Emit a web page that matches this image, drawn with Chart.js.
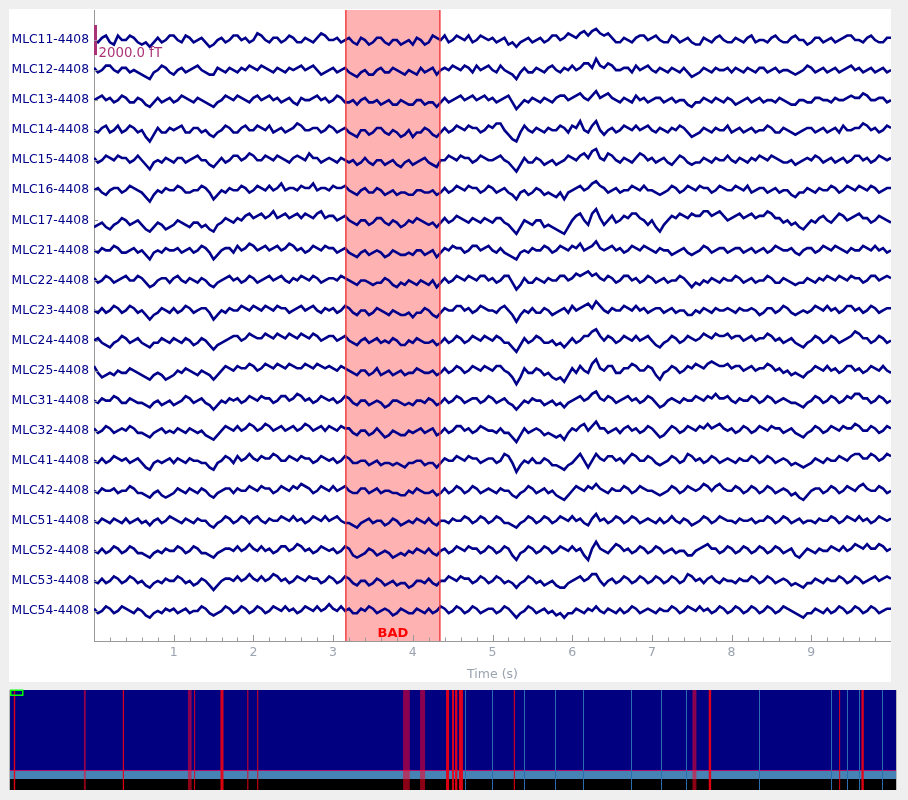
<!DOCTYPE html>
<html><head><meta charset="utf-8">
<script src="https://cdn.jsdelivr.net/npm/chart.js@4.4.0/dist/chart.umd.min.js"></script>
<style>
html,body{margin:0;padding:0;background:#efefef;width:908px;height:800px;overflow:hidden}
#main{position:absolute;left:9px;top:9px;width:882px;height:673px;background:#fff}
#ov{position:absolute;left:9px;top:689px;width:888px;height:101px}
</style></head><body>
<div id="main"><canvas id="c1" width="882" height="673"></canvas></div>
<div id="ov"><canvas id="c2" width="888" height="101"></canvas></div>
<script>
// ---------- data ----------
const STEP_S = 0.05;       // sample spacing of the read-off values (s)
const UNIT_FT = 150;       // one data unit = 150 fT
const SCALE_FT = 2000;     // scale bar = one channel spacing
const VIEW_START = 0, VIEW_END = 10;
const xTickLabels = [1,2,3,4,5,6,7,8,9];
const channelNames = ['MLC11-4408','MLC12-4408','MLC13-4408','MLC14-4408','MLC15-4408','MLC16-4408','MLC17-4408','MLC21-4408','MLC22-4408','MLC23-4408','MLC24-4408','MLC25-4408','MLC31-4408','MLC32-4408','MLC41-4408','MLC42-4408','MLC51-4408','MLC52-4408','MLC53-4408','MLC54-4408'];

const MLC11 = [0,-1,1,2,-1,-2,2,0,0,2,1,-1,-2,-1,-3,-1,1,-1,0,2,
2,0,-1,2,1,-1,0,1,-1,-3,-2,0,1,-1,0,2,2,0,1,-1,
0,3,2,0,-1,1,1,-1,0,2,1,-1,-1,1,0,-1,1,3,2,0,
0,1,-1,0,1,-1,-2,1,0,-2,-1,1,1,-1,-2,0,0,-2,-1,0,
-2,1,0,-2,-1,2,1,0,2,-1,0,2,1,0,2,-1,0,2,1,0,
1,-1,0,1,-2,-1,-3,-1,0,1,-1,0,1,-1,0,2,2,0,1,3,
2,1,3,4,2,4,5,3,2,3,1,-1,-1,1,0,-1,1,2,2,0,
1,2,0,-1,-1,2,1,-1,0,1,-1,-2,-2,1,0,-1,1,2,0,-1,
-1,1,0,-1,1,2,-1,0,0,-1,1,2,0,-1,-1,1,2,0,0,-2,
-1,1,1,-1,0,1,-1,0,1,2,2,0,0,-1,1,2,0,-1,-1,1,
1];
const MLC12 = [1,-1,0,2,2,0,-1,1,1,-1,0,-1,-2,-3,-4,-1,0,2,1,-1,
-2,0,1,-1,0,1,2,0,-1,-2,-2,1,0,-1,1,0,-1,1,0,2,
1,0,2,1,0,-1,1,0,-1,1,0,1,2,0,1,2,0,-2,-1,0,
1,-1,0,1,-1,-2,-3,-1,0,-2,-2,0,1,-1,-1,1,0,-1,-2,0,
-1,-2,1,-1,0,1,-2,0,1,0,2,1,0,2,1,-1,2,0,1,2,
0,-1,2,0,-1,-2,-4,-1,1,-1,-1,1,0,-1,1,2,0,-1,1,0,
2,0,1,3,3,1,5,2,1,3,2,0,0,1,1,-1,2,0,1,2,
0,-1,1,0,-1,1,0,-1,1,-1,-3,-2,-1,1,0,-1,1,0,0,1,
-1,1,0,-1,1,0,-1,1,1,-1,0,1,-1,0,0,-1,-2,-1,0,2,
1,-1,0,1,-1,0,1,-1,0,1,2,0,1,-1,0,1,-1,0,1,-1,
0];
const MLC13 = [0,1,2,0,1,-1,0,2,1,-1,-1,1,0,-2,-3,-1,1,-1,0,1,
-1,0,2,1,0,-1,1,0,-1,-2,-3,-1,0,2,1,0,2,1,0,-1,
1,2,0,1,2,0,1,-1,0,1,-1,-2,1,0,0,1,2,0,1,-1,
0,2,1,-1,-1,0,-2,0,1,-1,-1,0,-2,-1,0,-2,-2,0,-1,-2,
-2,0,0,-2,-1,-1,-3,-1,1,-1,0,1,2,0,1,2,0,1,2,0,
1,-1,0,1,2,-1,-4,-2,0,-1,1,0,-1,1,0,-1,1,2,2,0,
1,2,3,1,0,2,4,1,2,3,1,0,-1,1,0,-1,2,0,1,-1,
0,1,1,-1,0,1,-1,0,0,-2,-3,-1,-1,1,0,-1,1,0,-1,1,
0,-2,-1,0,1,-1,0,1,-1,0,0,-1,1,0,-1,-2,-2,0,0,-1,
-1,1,1,0,0,-1,1,0,0,1,2,1,1,3,2,0,0,1,1,-1,
0];
const MLC14 = [0,-1,1,2,-1,0,2,-1,0,2,1,-1,0,-3,-5,-2,1,-1,-1,1,
0,1,2,-1,-1,1,1,-1,0,-2,-3,-1,0,2,1,-1,-1,1,2,0,
0,2,1,0,2,-1,0,1,-1,0,1,3,2,0,0,1,1,-1,0,2,
1,-1,0,1,-1,-2,-3,0,0,-2,-1,1,1,-1,-2,0,-1,-3,-2,0,
-3,-1,-1,1,0,-2,-3,-1,1,-1,0,2,1,0,2,1,1,-1,0,2,
1,3,3,0,-2,-4,-5,-1,2,0,-1,1,0,-1,1,0,0,2,1,-1,
2,1,4,0,-1,2,4,0,-2,0,1,-1,0,2,1,0,2,0,1,2,
0,-1,1,0,-1,1,0,2,1,-1,-3,-2,-1,1,0,-1,1,0,0,2,
-1,0,1,-1,0,1,-1,0,0,2,1,-1,-1,1,0,-1,-2,-1,0,1,
1,-1,0,1,-1,0,1,-1,2,0,0,1,1,3,2,0,1,-1,0,2,
1];
const MLC15 = [1,-1,0,2,1,0,2,1,1,-1,0,2,0,-2,-4,-1,0,-1,1,0,
-1,1,1,-1,0,1,2,0,0,-2,-3,-1,1,-1,0,2,2,0,1,3,
2,0,0,2,1,0,2,1,0,-1,1,2,1,0,3,1,1,-1,0,1,
0,-1,1,0,-1,0,-2,-1,1,-1,-2,0,0,-2,-1,0,-2,-3,-1,0,
-2,-1,0,1,-1,-2,-3,0,0,2,1,0,2,1,1,-1,0,2,1,0,
0,1,2,0,-1,-3,-5,-2,1,-1,-1,1,0,-2,-1,0,-2,-1,0,2,
1,0,2,3,1,4,5,1,0,3,2,0,-1,1,0,-1,1,3,2,0,
1,-1,0,1,-1,-2,0,2,1,-1,-2,-1,-1,1,0,-1,1,0,0,2,
0,-1,1,0,-1,1,0,2,1,0,2,1,0,-1,-1,0,-2,-1,0,1,
0,2,1,-1,0,1,-1,0,1,-1,0,2,2,0,1,-1,0,2,1,0,
1];
const MLC16 = [0,1,-1,-2,0,1,1,-1,0,2,1,0,-1,-3,-5,-2,0,-1,1,0,
0,2,1,-1,-1,0,0,2,1,-1,-4,-2,0,-1,1,0,0,2,1,-1,
0,2,1,0,2,0,1,3,0,1,1,0,2,1,1,3,0,1,1,0,
2,1,1,2,0,-1,-2,0,1,-1,-1,1,0,-2,-1,0,-2,-1,-1,-2,
-2,0,0,-1,-1,0,-2,-1,1,-1,0,2,1,0,2,1,1,-1,0,2,
1,-1,0,1,-1,-2,-4,-1,0,-2,-1,1,0,-2,-1,-2,-3,-1,-4,-1,
0,1,2,0,1,3,4,2,1,-1,0,1,-1,0,0,2,1,0,2,0,
0,-1,-2,-1,0,2,1,-1,0,2,1,0,2,1,1,-1,0,2,1,0,
0,2,1,0,2,-1,0,1,1,-1,0,1,-1,0,0,-2,-3,-1,-1,1,
0,-1,1,0,0,2,1,-1,0,2,1,0,2,1,0,2,1,-1,0,1,
1];
const MLC17 = [-3,-2,-1,-3,-4,-2,-1,1,0,-2,-1,0,-2,-4,-5,-3,-1,-2,-4,-3,
-2,0,-1,-2,-3,-1,-1,-3,-2,-4,-5,-2,-1,1,0,-1,1,0,2,3,
1,2,3,1,2,4,1,2,3,1,2,3,1,3,2,1,3,4,1,2,
2,0,1,2,0,-1,-2,0,0,-2,-1,1,1,-1,-2,0,-1,-3,-2,0,
-1,1,0,-1,-2,-1,-3,-1,1,-1,0,2,1,0,-1,1,0,-1,1,0,
-1,1,1,-1,-2,-4,-6,-3,0,-1,-2,0,0,-3,-2,-3,-4,-5,-6,-3,
0,2,3,0,-2,3,5,1,-2,0,2,-1,0,2,1,3,3,1,0,-2,
0,-3,-5,-2,0,2,1,3,2,1,3,2,2,4,4,2,3,4,2,0,
1,2,3,1,2,3,1,2,2,4,3,1,1,-1,0,-2,-1,-3,-4,-2,
0,-1,1,2,0,-1,1,3,2,0,1,2,3,1,1,-1,0,2,1,0,
-1];
const MLC21 = [0,-1,1,0,0,2,1,-1,-1,0,1,-1,0,-2,-4,-1,0,-1,1,0,
0,1,-1,0,1,-1,0,2,1,-1,-4,-2,0,1,1,-1,2,0,1,3,
2,0,1,2,0,1,2,0,1,3,2,0,1,-1,0,2,1,0,2,1,
1,-1,0,1,-1,-2,-3,-1,0,-2,-1,0,-1,-3,-2,0,-1,-2,-2,-1,
-2,0,0,-2,-1,0,-3,-1,1,0,2,1,1,-1,0,2,2,0,1,2,
0,-1,1,-1,-2,-3,-4,-1,0,-1,1,0,0,2,1,-1,0,2,1,0,
2,1,3,0,1,2,4,1,0,1,2,0,1,-1,0,2,1,0,2,1,
0,-1,1,0,0,-2,-1,0,1,-1,-2,-1,0,2,1,-1,0,1,1,-1,
0,1,1,-1,0,1,-1,0,1,-1,0,2,1,0,0,1,-1,-2,0,1,
1,-1,0,2,1,0,2,1,0,-1,1,0,0,2,1,0,2,0,1,-1,
0];
const MLC22 = [1,-1,0,2,1,-1,0,1,2,0,0,2,1,-1,-3,-2,0,1,1,-1,
1,2,0,-1,1,0,-1,1,0,-2,-3,-1,0,1,2,0,1,-1,0,2,
1,-1,0,1,2,0,1,2,0,-1,1,0,2,1,0,2,1,-1,0,1,
1,0,2,1,0,-1,-2,0,0,-1,-2,-1,-1,1,0,-2,-3,-1,-2,0,
-1,-2,0,-1,-2,0,-3,-1,1,-1,0,2,1,0,2,1,0,2,2,0,
1,-1,0,2,2,-1,-4,-2,1,-1,-1,1,0,-1,1,0,0,2,2,0,
1,3,2,3,4,2,3,1,0,2,1,-1,0,2,2,0,1,-1,0,2,
1,-1,0,1,-1,0,0,2,1,-1,-3,-1,-2,0,-1,1,0,-1,1,0,
0,2,1,-1,0,1,-1,0,0,2,1,-1,-1,1,0,-1,-2,-1,-1,1,
0,-1,1,0,2,1,0,2,1,0,2,1,1,-1,0,2,2,0,1,2,
1];
const MLC23 = [0,-1,1,-1,0,2,1,-1,0,2,1,-1,0,-2,-4,-2,-1,1,0,-1,
1,-1,0,2,1,-1,0,1,1,-1,-4,-2,0,-1,1,0,0,2,1,0,
2,1,0,2,1,0,2,1,1,-1,0,1,2,0,1,2,0,-1,1,0,
1,-1,0,2,1,-1,-2,0,0,-2,-1,1,0,-1,-2,0,-1,-2,-2,-1,
-3,-1,-1,1,0,-2,-3,-1,1,0,0,2,2,0,1,-1,0,2,1,0,
0,-1,1,2,0,-2,-5,-2,0,-1,1,-1,-1,1,0,-2,-1,0,1,-1,
2,0,1,2,3,1,4,2,0,-1,1,0,0,2,1,0,2,0,1,-1,
0,1,1,-1,0,1,-1,0,0,-2,-2,0,-1,1,0,-1,1,0,0,1,
0,-1,1,0,0,1,0,-2,-1,1,1,-1,0,2,1,-1,-2,-1,0,-1,
0,2,1,0,2,0,1,-1,0,2,2,0,1,-1,0,2,1,-1,0,1,
1];
const MLC24 = [0,1,-1,-2,-3,-1,0,2,1,-1,0,1,-1,-2,-3,-1,-1,1,0,-1,
1,0,-1,1,0,-2,-1,1,0,-2,-4,-2,-1,0,1,2,2,0,1,3,
2,1,1,3,2,1,3,2,1,3,2,1,3,2,1,3,2,0,1,2,
2,0,1,2,0,-1,-2,0,1,-1,0,1,-1,0,-1,1,0,-2,-2,0,
-1,1,0,-1,-1,0,-2,-1,1,-1,0,2,1,-1,0,2,1,0,2,1,
0,2,1,-1,-1,-3,-5,-2,1,-1,0,2,1,-1,-1,0,-2,-1,-3,-1,
1,-1,0,2,2,4,5,2,0,2,1,-1,0,2,1,0,2,0,1,2,
0,-2,-3,-1,0,2,1,-1,0,2,1,0,1,3,2,1,3,2,2,3,
1,2,2,0,1,2,0,1,1,3,2,0,1,-1,0,1,-1,-2,-3,-1,
0,2,1,-1,0,2,1,-1,0,1,2,4,3,1,1,-1,0,2,1,-1,
0];
const MLC25 = [2,-1,-3,-2,-1,-2,0,-1,-1,1,0,-1,-2,-3,-4,-2,-1,-2,-4,-3,
-2,0,-1,1,0,-1,-2,0,-1,-2,-4,-2,0,2,1,0,2,1,1,3,
2,0,1,3,2,1,3,2,1,3,2,1,1,3,2,1,3,2,1,2,
1,0,2,1,0,-1,-2,0,0,-2,-1,1,-2,-1,0,-2,-1,0,-2,-1,
-1,1,0,-1,-1,0,-2,-1,1,-1,0,2,1,-1,0,2,1,0,2,1,
0,2,2,0,-1,-3,-6,-3,1,-1,-1,1,0,-2,-1,-3,-4,-3,-5,-2,
1,-1,2,0,-1,3,5,1,0,2,2,-1,-1,1,1,3,2,0,0,2,
1,-2,-4,-1,0,2,1,-1,0,2,1,3,2,1,3,4,3,2,2,3,
1,2,2,0,1,2,0,1,1,3,2,0,1,-1,0,-2,-1,-2,-3,-1,
0,2,1,0,2,0,1,-1,0,2,2,0,1,-1,0,2,1,0,2,0,
-1];
const MLC31 = [0,-1,1,0,0,2,1,-1,-1,1,0,-1,-1,-2,-3,-1,0,-2,-1,0,
-2,-1,0,2,1,-1,0,1,-1,-2,-4,-2,0,-1,1,0,1,-1,0,2,
1,0,2,1,1,-1,0,2,2,0,1,3,2,0,1,-1,0,2,1,0,
1,-1,0,2,1,-1,-2,0,0,-2,-1,0,-1,-3,-2,0,0,-1,-2,-1,
-2,0,0,-1,1,0,-2,-1,1,-1,0,2,1,-1,0,1,1,-1,0,2,
1,-1,0,1,-1,-2,-4,-2,0,-1,1,0,0,-2,-1,0,-2,-1,-3,-1,
0,1,2,0,1,3,4,1,0,2,1,-1,0,1,2,0,1,-1,0,2,
1,-1,-3,-2,0,1,0,-1,1,0,0,2,1,0,2,1,3,1,1,2,
0,-1,1,0,0,2,1,-1,0,2,1,-1,0,1,0,-1,-1,-2,-3,-1,
0,2,1,-1,0,2,1,-1,0,2,1,3,3,1,1,-1,0,2,1,-1,
0];
const MLC32 = [1,-1,0,2,1,-1,0,1,0,2,1,-1,-1,-2,-3,-1,0,1,-1,0,
-1,1,0,-1,1,0,-1,0,-2,-3,-4,-2,0,2,1,0,2,0,1,3,
2,0,1,3,2,0,1,2,0,1,2,0,1,3,2,0,1,2,0,2,
1,0,2,1,1,-1,-2,0,0,-2,-1,1,-1,-3,-2,0,-1,-2,-2,0,
-1,0,1,-1,0,1,-2,-1,1,-1,0,2,2,0,1,-1,0,2,1,0,
0,-1,1,-1,-1,-3,-5,-2,1,-1,0,1,0,-2,-1,-2,-3,-2,-4,-1,
1,0,2,3,0,2,4,1,1,-1,0,1,-1,1,2,0,1,-1,0,2,
1,-1,-3,-2,0,2,1,-1,0,2,1,0,2,1,3,1,2,3,1,0,
1,-1,0,2,1,-1,0,2,1,0,2,1,1,-1,0,1,-1,-2,-3,-1,
0,2,1,-1,0,2,1,0,2,1,1,3,2,0,0,2,1,-1,0,2,
1];
const MLC41 = [0,-1,1,-1,0,2,1,0,1,-1,0,1,-1,-3,-4,-1,0,-1,0,1,
-1,1,0,-1,1,0,0,-1,-1,-3,-4,-1,0,2,1,-1,2,0,1,3,
1,0,2,1,1,3,2,0,0,2,1,0,2,1,1,-1,0,2,1,0,
1,-1,0,2,1,-1,-1,0,0,-2,-1,0,-2,-1,-1,-2,-1,-2,-3,-1,
-1,0,0,-2,-1,-1,-3,-1,1,0,0,2,1,0,2,1,1,-1,0,1,
1,-1,0,3,2,-1,-5,-2,0,-1,1,-1,-1,1,0,-2,-2,-3,-4,-2,
-1,1,3,0,-3,0,3,1,0,2,2,0,1,-1,1,3,2,0,0,2,
1,-1,-2,-1,0,2,1,-1,0,3,2,0,1,-1,0,2,1,-1,0,1,
0,-1,1,0,0,2,1,-1,0,2,1,-1,0,1,0,-2,-1,-2,-3,-2,
-1,1,0,-1,1,0,0,2,1,0,2,3,3,1,1,3,2,0,1,3,
2];
const MLC42 = [0,-1,1,0,0,1,-1,0,0,2,1,-1,-1,-2,-3,-1,0,-2,-3,-2,
-1,1,0,-1,1,0,-1,1,0,-2,-3,-1,0,1,1,-1,1,0,0,2,
1,0,2,1,1,-1,0,2,1,0,2,1,3,2,1,-1,0,2,1,0,
2,0,1,2,0,-1,-1,1,1,-1,0,1,-1,0,0,-1,-1,-2,-2,0,
-1,1,0,-1,-1,0,-2,-1,1,-1,0,2,1,-1,0,2,1,-1,0,1,
0,-1,1,0,0,-2,-3,-1,0,2,1,-1,0,1,-1,0,-2,-3,-4,-2,
0,2,1,0,2,1,3,1,0,-1,1,0,0,2,1,-1,0,2,1,0,
0,-1,-2,-1,0,2,1,-1,0,2,1,0,1,3,2,0,2,3,1,0,
0,2,1,-1,0,2,1,-1,0,2,1,-1,0,1,0,-2,-1,-3,-4,-2,
0,1,1,-1,0,2,1,-1,0,2,1,0,2,3,1,0,0,2,1,-1,
0];
const MLC51 = [0,-1,1,0,-1,1,0,-1,1,-1,0,1,-1,0,-2,0,1,-1,0,2,
1,0,-1,1,0,-1,1,0,0,-2,-3,-1,0,2,1,-1,0,2,1,-1,
1,2,0,-1,1,0,0,2,1,0,2,0,1,-1,0,2,1,0,2,0,
1,2,0,-1,-1,-2,-3,-1,0,1,-1,0,0,-2,-1,1,0,-2,-1,0,
-1,1,0,-1,1,-1,-2,0,0,-1,1,0,0,2,1,-1,0,2,1,-1,
0,2,1,-1,-1,-2,-3,-1,0,2,1,-1,0,2,1,-1,0,2,1,0,
2,0,1,-1,-2,1,3,0,1,-1,0,2,1,-1,0,2,1,-1,0,1,
0,-1,1,-1,0,2,0,-1,1,0,-2,-1,0,2,1,-1,0,2,1,0,
0,-1,1,0,0,1,-1,0,0,2,1,-1,0,2,1,-1,0,1,-1,0,
0,-1,1,0,0,2,1,-1,0,2,1,0,2,0,1,-1,0,2,1,0,
1];
const MLC52 = [0,-1,1,-1,0,2,1,-1,0,2,1,-1,-1,-2,-3,-1,0,-1,1,0,
0,2,1,-1,0,2,1,-1,-1,-2,-3,-1,0,1,1,0,2,0,1,3,
1,0,2,0,1,-1,0,2,2,0,1,3,2,0,1,-1,0,2,1,0,
1,-1,0,2,1,-2,-3,-2,-1,1,0,-2,-1,0,-1,-3,-2,-1,-2,0,
-1,1,0,-1,1,-1,-2,0,1,-1,0,2,1,0,2,1,1,-1,0,2,
1,-1,0,2,1,-2,-4,-1,0,2,1,-1,0,2,1,-1,0,2,1,0,
2,0,1,-2,-4,1,4,1,0,-1,1,3,2,0,1,-1,0,2,1,-1,
0,2,1,-1,0,1,-1,0,0,-2,-2,0,1,2,3,1,1,-1,0,2,
1,-1,0,2,1,-1,0,2,1,-1,0,2,1,-1,0,1,-2,-3,-1,1,
0,-1,1,0,0,2,1,0,2,0,1,3,2,1,3,1,1,3,2,0,
1];
const MLC53 = [0,-1,1,-1,0,2,1,-1,0,2,1,-1,0,-2,-3,-1,0,-1,1,0,
0,2,1,-1,0,-2,-1,1,0,-2,-4,-2,0,1,1,0,2,0,1,3,
1,0,2,0,1,3,2,0,1,-1,0,2,1,0,2,1,1,-1,0,2,
1,-1,0,2,1,-1,-2,0,0,-2,-1,1,0,-2,-1,0,-2,-1,-1,-3,
-2,0,0,-1,1,-1,-2,0,0,2,1,0,2,1,1,-1,0,2,1,-1,
0,2,1,-1,0,-1,-3,-1,0,2,1,-1,0,-2,-1,0,-2,-3,-3,-1,
0,1,2,0,1,3,3,0,-2,0,1,-1,0,2,1,-1,0,2,1,-1,
0,2,1,-1,0,2,1,-1,0,3,2,0,1,-1,1,2,0,-1,1,0,
0,-1,1,0,0,2,1,-1,0,2,1,-1,0,1,0,-2,-1,-2,-3,-1,
-1,1,0,-1,1,0,0,2,1,-1,0,2,1,-1,0,1,2,0,1,2,
1];
const MLC54 = [1,-1,0,2,1,-1,0,2,1,0,-1,1,0,-2,-3,-1,0,-1,1,0,
1,-1,0,1,-1,0,0,2,1,-1,-2,-1,0,2,1,-1,0,2,1,-1,
0,2,1,-1,0,2,1,0,2,0,1,-1,0,2,1,0,2,0,1,3,
1,0,2,0,1,-1,-1,1,0,2,1,-1,0,1,0,-2,-1,1,0,-1,
-1,1,0,-1,1,-1,0,2,1,-1,0,2,1,-1,0,2,1,-1,0,1,
1,-1,0,2,1,-1,-3,-1,0,2,1,-1,0,1,-1,0,-2,-1,-3,-1,
-1,1,0,-1,1,0,2,0,-1,1,0,-1,1,-1,0,2,1,-1,0,1,
0,-1,1,0,0,2,1,-1,0,2,1,0,2,0,1,-1,0,2,1,-1,
0,2,1,-1,0,2,1,-1,0,2,1,-1,0,2,1,0,-1,-2,-3,-1,
-1,1,0,-1,1,-1,0,2,1,-1,0,2,1,-1,0,2,1,-1,0,1,
1];
const traces = [MLC11,MLC12,MLC13,MLC14,MLC15,MLC16,MLC17,MLC21,MLC22,MLC23,MLC24,MLC25,MLC31,MLC32,MLC41,MLC42,MLC51,MLC52,MLC53,MLC54];

const BAD_START = 3.16, BAD_END = 4.34, BAD_LABEL = 'BAD';

// overview (whole recording, seconds)
const OV_DURATION = 740;
const ovGroupCounts = [320, 4, 32, 44];
const ovGroupColors = ['#000080', '#b0106a', '#4682b4', '#000000'];
const ovSpanStarts  = [61.7, 148.6, 328.3, 342.5, 570.0];
const ovSpanEnds    = [63.3, 151.7, 333.9, 346.7, 573.3];
const ovBadStarts   = [3.16, 94.2, 153.8, 175.8, 198.2, 206.5, 364.2, 369.2, 371.7, 375.0, 420.8, 583.6, 692.5, 711.1];
const ovBadEnds     = [4.34, 95.2, 154.6, 178.3, 199.0, 207.3, 366.7, 370.8, 373.6, 378.3, 421.7, 585.6, 693.3, 713.1];
const ovEventTimes  = [380.0, 402.8, 429.4, 455.3, 478.6, 518.6, 543.6, 564.4, 625.3, 686.1, 699.4, 709.4, 728.6];

// ---------- chart ----------
Chart.defaults.font.family = "'DejaVu Sans', sans-serif";
Chart.defaults.animation = false;

const datasets = traces.map((vals, k) => ({
  label: channelNames[k],
  data: vals.map((v, i) => ({ x: VIEW_START + i * STEP_S, y: (k + 1) - v * UNIT_FT / SCALE_FT })),
  borderColor: '#00008b', borderWidth: 2.6, pointRadius: 0, tension: 0, fill: false,
  borderJoinStyle: 'miter'
}));

const decor = {
  id: 'decor',
  beforeDatasetsDraw(chart) {
    const { ctx, chartArea: a } = chart, xs = chart.scales.x;
    const x1 = xs.getPixelForValue(BAD_START), x2 = xs.getPixelForValue(BAD_END);
    ctx.save();
    ctx.fillStyle = 'rgba(255,0,0,0.3)';
    ctx.fillRect(x1, a.top, x2 - x1, a.bottom - a.top);
    ctx.restore();
  },
  afterDatasetsDraw(chart) {
    const { ctx, chartArea: a } = chart, xs = chart.scales.x, ys = chart.scales.y;
    ctx.save();
    ctx.strokeStyle = 'rgba(240,50,50,0.9)'; ctx.lineWidth = 1.5;
    [BAD_START, BAD_END].forEach(t => {
      const x = xs.getPixelForValue(t);
      ctx.beginPath(); ctx.moveTo(x, a.top); ctx.lineTo(x, a.bottom); ctx.stroke();
    });
    ctx.fillStyle = '#ff0000'; ctx.font = "bold 13px 'DejaVu Sans'";
    ctx.textAlign = 'center'; ctx.textBaseline = 'alphabetic';
    ctx.fillText(BAD_LABEL, xs.getPixelForValue((BAD_START + BAD_END) / 2), a.bottom - 4);
    // scale bar
    const half = 0.5;
    const yTop = ys.getPixelForValue(1 - half), yBot = ys.getPixelForValue(1 + half);
    const x0 = xs.getPixelForValue(VIEW_START);
    ctx.fillStyle = '#AA3377';
    ctx.fillRect(x0, yTop, 3, yBot - yTop);
    ctx.font = "13.3px 'DejaVu Sans'"; ctx.textAlign = 'left';
    ctx.fillText(SCALE_FT.toFixed(1) + ' fT', x0 + 4.5, yBot + 1.5);
    // inward ticks
    ctx.strokeStyle = '#999'; ctx.lineWidth = 1;
    for (let i = 0; i <= 50; i++) {
      const t = VIEW_START + i * 0.2;
      const x = Math.round(xs.getPixelForValue(t)) + 0.5;
      const len = (i % 5 === 0) ? 6 : 3.5;
      ctx.beginPath(); ctx.moveTo(x, a.bottom); ctx.lineTo(x, a.bottom - len); ctx.stroke();
    }
    channelNames.forEach((n, k) => {
      const y = Math.round(ys.getPixelForValue(k + 1)) + 0.5;
      ctx.beginPath(); ctx.moveTo(a.left, y); ctx.lineTo(a.left + 4, y); ctx.stroke();
    });
    ctx.restore();
  }
};

new Chart(document.getElementById('c1'), {
  type: 'line',
  data: { datasets },
  options: {
    responsive: false, animation: false,
    layout: { padding: { top: 1, right: 0, left: 0, bottom: 0 } },
    plugins: { legend: { display: false }, tooltip: { enabled: false } },
    scales: {
      x: {
        type: 'linear', min: VIEW_START, max: VIEW_END,
        afterBuildTicks: s => { s.ticks = xTickLabels.map(v => ({ value: v })); },
        ticks: { color: '#9aa3b0', font: { size: 12.5 }, padding: 4, maxRotation: 0, autoSkip: false },
        grid: { drawOnChartArea: false, drawTicks: false },
        border: { color: '#999', width: 1 },
        title: { display: true, text: 'Time (s)', color: '#9aa3b0', font: { size: 12.5 }, padding: { top: 4, bottom: 0 } },
        afterFit: s => { s.height = 41; s.paddingLeft = 0; s.paddingRight = 0; }
      },
      y: {
        type: 'linear', min: 0, max: channelNames.length + 1, reverse: true,
        afterBuildTicks: s => { s.ticks = channelNames.map((_, i) => ({ value: i + 1 })); },
        ticks: { color: '#00008b', font: { size: 12.3 }, padding: 5, autoSkip: false,
                 callback: (v) => channelNames[Math.round(v) - 1] },
        grid: { drawOnChartArea: false, drawTicks: false },
        border: { color: '#999', width: 1 },
        afterFit: s => { s.width = 85; s.paddingTop = 0; s.paddingBottom = 0; }
      }
    }
  },
  plugins: [decor]
});

// ---------- overview ----------
const ovDecor = {
  id: 'ovDecor',
  beforeDatasetsDraw(chart) {
    const { ctx, chartArea: a } = chart, xs = chart.scales.x, ys = chart.scales.y;
    ctx.save();
    let acc = 0;
    ovGroupCounts.forEach((c, i) => {
      const y1 = ys.getPixelForValue(acc), y2 = ys.getPixelForValue(acc + c);
      ctx.fillStyle = ovGroupColors[i];
      ctx.fillRect(a.left, y1, a.right - a.left, y2 - y1);
      acc += c;
    });
    ctx.strokeStyle = '#2a6db0'; ctx.lineWidth = 1;
    ovEventTimes.forEach(t => {
      const x = Math.round(xs.getPixelForValue(t)) + 0.5;
      ctx.beginPath(); ctx.moveTo(x, a.top); ctx.lineTo(x, a.bottom); ctx.stroke();
    });
    ctx.fillStyle = 'rgba(255,0,40,0.55)';
    ovSpanStarts.forEach((s, i) => {
      const x1 = xs.getPixelForValue(s), x2 = xs.getPixelForValue(ovSpanEnds[i]);
      ctx.fillRect(x1, a.top, x2 - x1, a.bottom - a.top);
    });
    ctx.fillStyle = 'rgba(240,0,20,0.92)';
    ovBadStarts.forEach((s, i) => {
      const x1 = xs.getPixelForValue(s), x2 = xs.getPixelForValue(ovBadEnds[i]);
      ctx.fillRect(x1, a.top, Math.max(1, x2 - x1), a.bottom - a.top);
    });
    ctx.strokeStyle = '#00ff00'; ctx.lineWidth = 1.5;
    const vx1 = xs.getPixelForValue(VIEW_START), vx2 = xs.getPixelForValue(VIEW_END);
    const vy1 = ys.getPixelForValue(0), vy2 = ys.getPixelForValue(channelNames.length);
    ctx.strokeRect(vx1 + 0.75, vy1 + 0.25, vx2 - vx1, vy2 - vy1);
    ctx.strokeStyle = '#b8b8b8'; ctx.lineWidth = 1;
    ctx.beginPath(); ctx.moveTo(a.left - 0.5, a.top); ctx.lineTo(a.left - 0.5, a.bottom);
    ctx.moveTo(a.right + 0.5, a.top); ctx.lineTo(a.right + 0.5, a.bottom); ctx.stroke();
    ctx.restore();
  }
};

new Chart(document.getElementById('c2'), {
  type: 'line',
  data: { datasets: [] },
  options: {
    responsive: false, animation: false,
    layout: { padding: { top: 1, left: 1, right: 1, bottom: 0 } },
    plugins: { legend: { display: false }, tooltip: { enabled: false } },
    scales: {
      x: { type: 'linear', min: 0, max: OV_DURATION, display: false },
      y: { type: 'linear', min: 0, max: ovGroupCounts.reduce((p, c) => p + c, 0), reverse: true, display: false }
    }
  },
  plugins: [ovDecor]
});
</script>
</body></html>
